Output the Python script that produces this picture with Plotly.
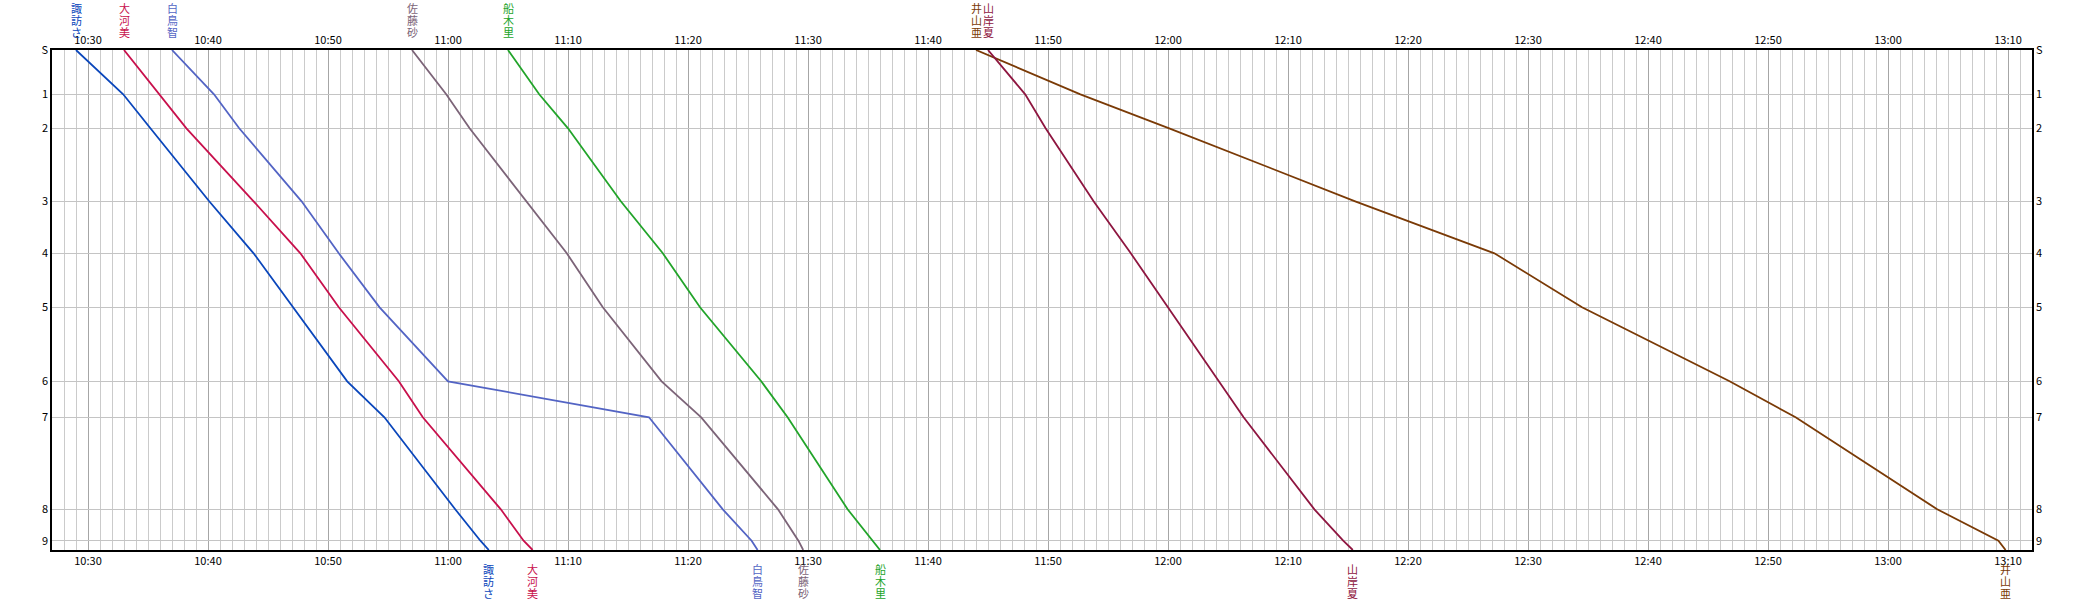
import plotly.graph_objects as go

DAY = "2000-01-01 "

# Stations (distance scale, top = start)
station_labels = ["S", "1", "2", "3", "4", "5", "6", "7", "8", "9"]
station_pos = [0, 44.3, 78.3, 151.3, 203.3, 257.3, 331.3, 367.3, 459.3, 490.7]
goal_pos = 500
point_pos = station_pos + [goal_pos]

# Runners: names, colors, passing times at S,1..9,Goal
names = ["諏訪さ", "大河美", "白鳥智", "佐藤砂", "船木里", "井山亜", "山岸夏"]
colors = ["#0a46bb", "#c8104c", "#5364c4", "#7c6478", "#22a42a", "#7a3a06", "#8e1640"]

t_suwa = ["10:29:00", "10:32:56", "10:35:12", "10:40:06", "10:43:48", "10:47:06",
          "10:51:36", "10:54:42", "11:00:36", "11:02:42", "11:03:24"]
t_ookawa = ["10:33:00", "10:35:56", "10:38:12", "10:43:48", "10:47:42", "10:50:54",
            "10:55:54", "10:57:54", "11:04:24", "11:06:18", "11:07:03"]
t_shiratori = ["10:37:00", "10:40:30", "10:42:36", "10:47:48", "10:50:54", "10:54:18",
               "11:00:00", "11:16:45", "11:22:54", "11:25:18", "11:25:48"]
t_sato = ["10:57:00", "10:59:51", "11:01:48", "11:06:30", "11:09:54", "11:12:54",
          "11:17:48", "11:21:06", "11:27:30", "11:29:12", "11:29:36"]
t_funaki = ["11:05:00", "11:07:36", "11:10:00", "11:14:24", "11:17:54", "11:21:00",
            "11:26:06", "11:28:18", "11:33:18", "11:35:24", "11:36:00"]
t_iyama = ["11:44:00", "11:52:42", "12:00:06", "12:15:36", "12:27:12", "12:34:30",
           "12:46:48", "12:52:18", "13:04:06", "13:09:12", "13:09:48"]
t_yamagishi = ["11:45:00", "11:48:06", "11:49:48", "11:53:48", "11:56:54", "12:00:00",
               "12:04:12", "12:06:18", "12:12:12", "12:14:36", "12:15:24"]
times = [t_suwa, t_ookawa, t_shiratori, t_sato, t_funaki, t_iyama, t_yamagishi]

x_start, x_end = "10:27:00", "13:12:00"

FONT = "Noto Sans CJK JP"
fig = go.Figure()

for name, col, ts in zip(names, colors, times):
    fig.add_trace(go.Scatter(
        x=[DAY + t for t in ts], y=point_pos, mode="lines",
        line=dict(color=col, width=1.8), name=name, showlegend=False,
        hoverinfo="skip"))

# invisible trace to anchor secondary axes
fig.add_trace(go.Scatter(x=[DAY + x_start], y=[0], xaxis="x2", yaxis="y2",
                         mode="markers", marker=dict(opacity=0), showlegend=False,
                         hoverinfo="skip"))

annotations = []
for name, col, ts in zip(names, colors, times):
    for i, ch in enumerate(name):
        annotations.append(dict(x=DAY + ts[0], y=1, xref="x", yref="paper",
                                text=ch, showarrow=False, xanchor="center", yanchor="middle",
                                yshift=42 - 12 * i, borderpad=0,
                                font=dict(family=FONT, size=11, color=col)))
        annotations.append(dict(x=DAY + ts[-1], y=0, xref="x", yref="paper",
                                text=ch, showarrow=False, xanchor="center", yanchor="middle",
                                yshift=-19 - 12 * i, borderpad=0,
                                font=dict(family=FONT, size=11, color=col)))

xcommon = dict(
    type="date", range=[DAY + x_start, DAY + x_end], automargin=False,
    tick0=DAY + "10:30:00", dtick=600000, tickformat="%H:%M",
    showgrid=True, gridcolor="#a6a6a6", gridwidth=1,
    minor=dict(dtick=60000, tick0=DAY + "10:30:00", showgrid=True, gridcolor="#cbcbcb", gridwidth=1),
    ticks="", zeroline=False,
    tickfont=dict(family=FONT, size=11, color="#000"),
    showline=True, linecolor="#000", linewidth=1.5,
)
ycommon = dict(
    range=[goal_pos, 0], tickvals=station_pos, ticktext=station_labels, automargin=False,
    showgrid=True, gridcolor="#c4c4c4", gridwidth=1, zeroline=False, ticks="",
    tickfont=dict(family=FONT, size=11, color="#000"),
    showline=True, linecolor="#000", linewidth=1.5,
)

fig.update_layout(
    width=2084, height=600,
    margin=dict(l=52, r=52, t=50, b=50, autoexpand=False),
    paper_bgcolor="white", plot_bgcolor="white",
    xaxis=dict(**xcommon, side="bottom"),
    xaxis2=dict(**xcommon, side="top", overlaying="x", matches="x"),
    yaxis=dict(**ycommon, side="left"),
    yaxis2=dict(**ycommon, side="right", overlaying="y", matches="y"),
    annotations=annotations,
)

fig.write_html("out.html", config={"displayModeBar": False},
               post_script="document.body.style.margin='0px';document.body.style.overflow='hidden';")
